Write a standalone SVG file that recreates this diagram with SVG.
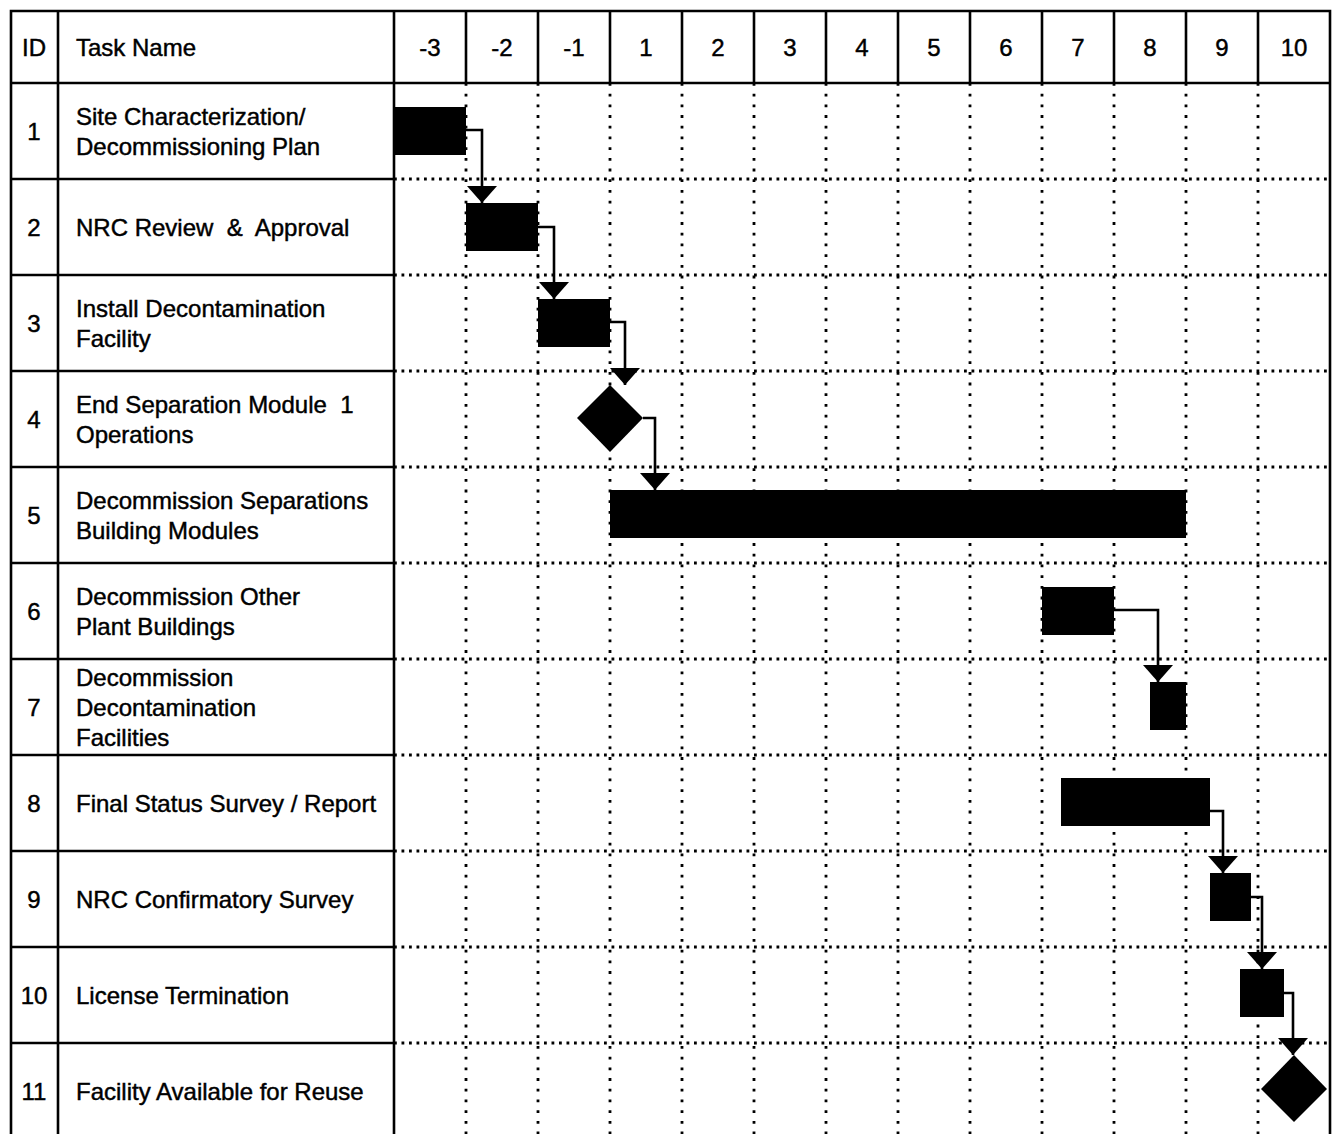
<svg xmlns="http://www.w3.org/2000/svg" width="1334" height="1134" viewBox="0 0 1334 1134">
<style>
text{font-family:"Liberation Sans",Arial,sans-serif;font-size:24px;fill:#000;stroke:#000;stroke-width:0.45}
.c{text-anchor:middle}
.solid{stroke:#000;stroke-width:2.6;fill:none}
.hd{stroke:#000;stroke-width:2.8;stroke-dasharray:2.8 4.7;fill:none}
.vd{stroke:#000;stroke-width:2.8;stroke-dasharray:2.8 7.9;fill:none}
.bar{fill:#000}
.conn{stroke:#000;stroke-width:2.6;fill:none;marker-end:url(#ah)}
</style>
<defs>
<marker id="ah" markerUnits="userSpaceOnUse" markerWidth="18" markerHeight="30" refX="17" refY="15" orient="auto" viewBox="0 0 18 30">
<path d="M0,0 L17,15 L0,30 Z" fill="#000"/>
</marker>
</defs>
<rect width="1334" height="1134" fill="#fff"/>
<g id="grid">
<path class="vd" d="M466,83V1134M538,83V1134M610,83V1134M682,83V1134M754,83V1134M826,83V1134M898,83V1134M970,83V1134M1042,83V1134M1114,83V1134M1186,83V1134M1258,83V1134"/>
<path class="hd" d="M394,179H1330M394,275H1330M394,371H1330M394,467H1330M394,563H1330M394,659H1330M394,755H1330M394,851H1330M394,947H1330M394,1043H1330"/>
<path class="solid" d="M10,179H394M10,275H394M10,371H394M10,467H394M10,563H394M10,659H394M10,755H394M10,851H394M10,947H394M10,1043H394"/>
<path class="solid" d="M466,11V83M538,11V83M610,11V83M682,11V83M754,11V83M826,11V83M898,11V83M970,11V83M1042,11V83M1114,11V83M1186,11V83M1258,11V83"/>
<path class="solid" d="M10,83H1330M58,11V1134M394,11V1134"/>
<path class="solid" stroke-width="3" d="M11,1134V11H1330V1134"/>
</g>
<g id="header">
<text class="c" x="34" y="56">ID</text>
<text x="76" y="56">Task Name</text>
<text class="c" x="430" y="56">-3</text>
<text class="c" x="502" y="56">-2</text>
<text class="c" x="574" y="56">-1</text>
<text class="c" x="646" y="56">1</text>
<text class="c" x="718" y="56">2</text>
<text class="c" x="790" y="56">3</text>
<text class="c" x="862" y="56">4</text>
<text class="c" x="934" y="56">5</text>
<text class="c" x="1006" y="56">6</text>
<text class="c" x="1078" y="56">7</text>
<text class="c" x="1150" y="56">8</text>
<text class="c" x="1222" y="56">9</text>
<text class="c" x="1294" y="56">10</text>
</g>
<g id="task1"><text class="c" x="34" y="140">1</text><text x="76" y="125">Site Characterization/</text><text x="76" y="155">Decommissioning Plan</text><rect class="bar" x="394" y="107" width="72" height="48"/></g>
<g id="task2"><text class="c" x="34" y="236">2</text><text x="76" y="236" xml:space="preserve">NRC Review  &amp;  Approval</text><rect class="bar" x="466" y="203" width="72" height="48"/></g>
<g id="task3"><text class="c" x="34" y="332">3</text><text x="76" y="317">Install Decontamination</text><text x="76" y="347">Facility</text><rect class="bar" x="538" y="299" width="72" height="48"/></g>
<g id="task4"><text class="c" x="34" y="428">4</text><text x="76" y="413" xml:space="preserve">End Separation Module  1</text><text x="76" y="443">Operations</text><polygon class="bar" points="610,385 643,418 610,452 577,418"/></g>
<g id="task5"><text class="c" x="34" y="524">5</text><text x="76" y="509">Decommission Separations</text><text x="76" y="539">Building Modules</text><rect class="bar" x="610" y="490" width="576" height="48"/></g>
<g id="task6"><text class="c" x="34" y="620">6</text><text x="76" y="605">Decommission Other</text><text x="76" y="635">Plant Buildings</text><rect class="bar" x="1042" y="587" width="72" height="48"/></g>
<g id="task7"><text class="c" x="34" y="716">7</text><text x="76" y="686">Decommission</text><text x="76" y="716">Decontamination</text><text x="76" y="746">Facilities</text><rect class="bar" x="1150" y="682" width="36" height="48"/></g>
<g id="task8"><text class="c" x="34" y="812">8</text><text x="76" y="812">Final Status Survey / Report</text><rect class="bar" x="1061" y="778" width="149" height="48"/></g>
<g id="task9"><text class="c" x="34" y="908">9</text><text x="76" y="908">NRC Confirmatory Survey</text><rect class="bar" x="1210" y="873" width="41" height="48"/></g>
<g id="task10"><text class="c" x="34" y="1004">10</text><text x="76" y="1004">License Termination</text><rect class="bar" x="1240" y="969" width="44" height="48"/></g>
<g id="task11"><text class="c" x="34" y="1100">11</text><text x="76" y="1100">Facility Available for Reuse</text><polygon class="bar" points="1294,1055 1327,1089 1294,1122 1261,1089"/></g>
<g id="connectors">
<path class="conn" d="M466,130H482V203"/>
<path class="conn" d="M538,227H554V299"/>
<path class="conn" d="M610,322H625V385"/>
<path class="conn" d="M643,418H655V490"/>
<path class="conn" d="M1114,610H1158V682"/>
<path class="conn" d="M1210,811H1223V873"/>
<path class="conn" d="M1251,897H1262V969"/>
<path class="conn" d="M1284,993H1293V1055"/>
</g>
</svg>
